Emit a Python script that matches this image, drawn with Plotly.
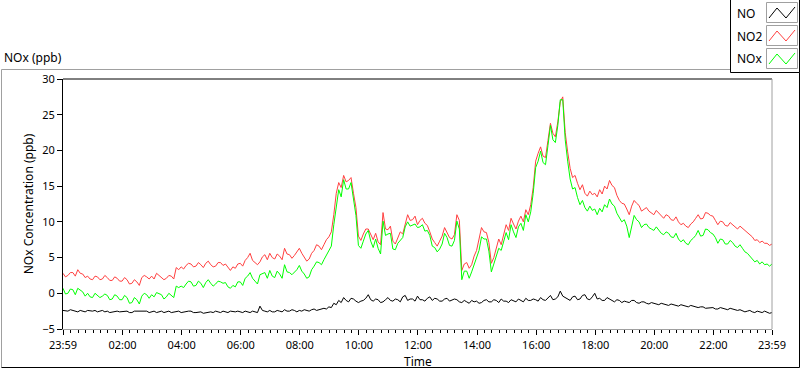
import pandas as pd
import plotly.graph_objects as go

# ---------------- data (5-minute samples starting 23:59) ----------------
start_time = "2024-01-01 23:59"
n_points = 289

no2 = [
    2.8, 2.3, 2.5, 2.9, 2.9, 2.4, 3.3, 2.8, 2.7, 2.2, 2.4, 2.0,
    1.9, 2.4, 2.3, 1.9, 2.0, 2.5, 2.2, 1.8, 1.8, 2.3, 2.1, 1.7,
    1.7, 2.2, 1.9, 1.3, 1.4, 1.9, 1.6, 1.1, 2.2, 2.5, 2.3, 2.0,
    2.4, 2.0, 2.8, 2.5, 2.3, 1.9, 2.1, 2.5, 2.4, 2.0, 3.6, 3.3,
    3.7, 3.4, 3.9, 4.2, 4.1, 3.7, 3.8, 4.3, 4.0, 3.6, 4.2, 4.5,
    4.0, 3.7, 3.8, 4.3, 4.3, 3.9, 4.1, 3.6, 3.2, 3.7, 3.5, 4.1,
    4.2, 3.8, 4.6, 5.0, 5.6, 4.6, 4.3, 4.0, 4.4, 5.1, 5.4, 4.7,
    5.6, 5.0, 4.8, 5.5, 5.2, 4.7, 6.3, 5.5, 5.4, 4.9, 5.3, 5.9,
    6.3, 5.6, 5.0, 4.5, 4.8, 5.6, 6.0, 6.8, 6.6, 6.1, 6.8, 7.5,
    7.9, 8.6, 11.0, 14.0, 15.5, 14.8, 16.5, 15.6, 15.8, 16.2, 14.0, 12.0,
    8.0, 7.4, 8.3, 9.0, 9.0, 8.2, 7.5, 8.4, 7.2, 6.8, 11.3, 9.0,
    8.9, 9.4, 7.3, 6.9, 7.9, 8.6, 8.3, 9.6, 11.0, 10.2, 10.3, 10.8,
    9.6, 10.2, 10.5, 9.8, 9.5, 8.6, 7.6, 7.1, 6.6, 7.3, 8.0, 9.2,
    8.5, 7.8, 7.6, 8.2, 11.0, 10.2, 3.2, 4.1, 4.3, 3.5, 4.0, 5.2,
    6.0, 7.4, 9.2, 8.6, 8.5, 7.1, 4.2, 5.0, 6.5, 7.6, 6.8, 8.2,
    9.6, 8.8, 10.5, 9.7, 9.0, 10.1, 10.8, 10.0, 11.7, 11.0, 12.4, 14.8,
    18.5, 19.6, 20.5, 19.2, 19.0, 21.4, 23.8, 22.4, 21.9, 24.0, 26.8, 27.5,
    22.5, 19.8, 17.5, 16.2, 16.5, 15.4, 14.5, 15.2, 14.0, 13.6, 14.3, 13.8,
    14.0, 13.5, 14.5, 13.9, 15.0, 14.6, 15.8, 15.1, 14.8, 13.7, 13.0, 12.6,
    12.5, 11.8, 11.0, 12.2, 13.0, 12.6, 12.3, 11.5, 11.7, 12.0, 11.5, 11.2,
    11.0, 11.6, 11.2, 10.8, 10.5, 11.0, 10.8, 10.3, 10.2, 10.7, 10.0, 9.6,
    9.8, 9.4, 9.2, 9.7, 10.0, 10.5, 11.0, 10.4, 10.5, 11.3, 11.2, 10.9,
    10.8, 10.2, 9.6, 10.1, 10.0, 9.5, 9.4, 9.9, 9.6, 9.2, 9.0, 9.4,
    9.1, 8.7, 8.5, 8.1, 7.9, 7.4, 7.5, 7.1, 7.3, 7.0, 7.0, 6.7,
    6.9,
]

nox = [
    0.7, -0.1, 0.0, 0.6, 0.5, -0.2, 0.7, 0.4, 0.2, -0.4, 0.0, -0.5,
    -0.6, 0.0, -0.3, -0.6, -0.4, -0.1, -0.3, -0.9, -0.8, -0.2, -0.4, -0.9,
    -0.9, -0.3, -0.6, -1.4, -1.3, -0.6, -0.9, -1.5, -0.4, 0.0, -0.2, -0.7,
    -0.2, -0.5, 0.1, -0.1, -0.2, -0.8, -0.5, 0.0, -0.3, -0.6, 1.0, 0.8,
    1.0, 0.8, 1.3, 1.7, 1.6, 1.0, 1.1, 1.7, 1.4, 0.8, 1.5, 1.9,
    1.4, 1.0, 1.3, 1.7, 1.6, 1.4, 1.5, 0.9, 0.7, 1.1, 0.9, 1.6,
    1.6, 1.1, 2.1, 2.4, 2.9, 2.1, 1.7, 1.3, 2.6, 2.7, 2.9, 2.1,
    3.2, 2.4, 2.2, 3.1, 2.7, 2.1, 4.0, 3.0, 2.9, 2.6, 2.9, 3.3,
    3.9, 3.1, 2.7, 2.1, 2.3, 3.3, 3.8, 4.4, 4.3, 4.0, 4.7, 5.3,
    6.0, 6.6, 9.6, 12.4, 14.5, 13.5, 15.9, 14.6, 14.6, 15.5, 13.2, 10.9,
    6.7, 6.3, 7.3, 8.3, 8.8, 7.3, 6.4, 7.6, 6.3, 5.5, 10.1, 8.1,
    8.3, 8.4, 6.2, 6.1, 7.0, 7.4, 7.8, 9.3, 10.0, 9.4, 9.5, 9.7,
    9.2, 9.3, 9.6, 8.7, 8.8, 8.1, 6.6, 6.4, 5.8, 6.2, 6.9, 8.4,
    7.8, 6.7, 6.6, 7.4, 10.1, 9.0, 1.9, 3.1, 3.1, 2.1, 3.0, 4.0,
    4.9, 6.0, 7.9, 7.6, 7.6, 5.9, 3.0, 4.1, 5.5, 6.3, 6.0, 7.1,
    8.5, 7.5, 9.6, 8.6, 7.8, 9.3, 9.8, 8.8, 11.0, 10.0, 11.4, 14.0,
    17.6, 18.5, 19.9, 18.3, 18.0, 20.7, 23.5, 21.5, 21.1, 23.5, 27.1, 27.1,
    21.5, 18.5, 16.0, 14.6, 14.8, 13.4, 12.4, 13.0, 12.0, 11.5, 12.2, 11.6,
    11.8, 11.0, 11.9, 11.4, 12.4, 12.0, 13.2, 12.5, 12.2, 11.2, 10.5, 10.0,
    10.3, 9.4, 7.8, 9.6, 10.9, 10.3, 10.0, 9.2, 9.6, 9.7, 9.2, 9.0,
    8.8, 9.3, 8.9, 8.4, 8.2, 8.6, 8.4, 7.9, 7.8, 8.4, 7.6, 7.2,
    7.5, 7.0, 6.8, 7.4, 7.7, 8.1, 8.8, 8.0, 8.1, 9.0, 8.9, 8.5,
    8.3, 7.8, 7.0, 7.6, 7.5, 6.9, 6.9, 7.4, 7.1, 6.6, 6.4, 6.8,
    6.3, 5.8, 5.6, 5.2, 4.9, 4.4, 4.6, 4.1, 4.4, 4.0, 4.1, 3.8,
    4.1,
]

no = [
    -2.4, -2.5, -2.5, -2.3, -2.4, -2.6, -2.6, -2.4, -2.5, -2.6, -2.4, -2.5,
    -2.5, -2.4, -2.6, -2.5, -2.4, -2.6, -2.5, -2.7, -2.6, -2.5, -2.5, -2.6,
    -2.6, -2.5, -2.5, -2.7, -2.7, -2.5, -2.5, -2.6, -2.6, -2.5, -2.5, -2.7,
    -2.6, -2.5, -2.7, -2.6, -2.5, -2.7, -2.6, -2.5, -2.7, -2.6, -2.6, -2.5,
    -2.7, -2.6, -2.6, -2.5, -2.5, -2.7, -2.7, -2.6, -2.6, -2.8, -2.7, -2.6,
    -2.6, -2.7, -2.5, -2.6, -2.7, -2.5, -2.6, -2.7, -2.5, -2.6, -2.6, -2.5,
    -2.6, -2.7, -2.5, -2.6, -2.7, -2.5, -2.6, -2.7, -1.8, -2.4, -2.5, -2.6,
    -2.4, -2.6, -2.6, -2.4, -2.5, -2.6, -2.3, -2.5, -2.5, -2.3, -2.4, -2.6,
    -2.4, -2.5, -2.3, -2.4, -2.5, -2.3, -2.2, -2.4, -2.3, -2.1, -2.1, -2.2,
    -1.9, -2.0, -1.4, -1.6, -1.0, -1.3, -0.6, -1.0, -1.2, -0.7, -0.8, -1.1,
    -1.3, -1.1, -1.0, -0.7, -0.2, -0.9, -1.1, -0.8, -0.9, -1.3, -1.2, -0.9,
    -0.6, -1.0, -1.1, -0.8, -0.9, -1.2, -0.5, -0.3, -1.0, -0.8, -0.8, -1.1,
    -0.4, -0.9, -0.9, -1.1, -0.7, -0.5, -1.0, -0.7, -0.8, -1.1, -1.1, -0.8,
    -0.7, -1.1, -1.0, -0.8, -0.9, -1.2, -1.3, -1.0, -1.2, -1.4, -1.0, -1.2,
    -1.1, -1.4, -1.3, -1.0, -0.9, -1.2, -1.2, -0.9, -1.0, -1.3, -0.8, -1.1,
    -1.1, -1.3, -0.9, -1.1, -1.2, -0.8, -1.0, -1.2, -0.7, -1.0, -1.0, -0.8,
    -0.9, -1.1, -0.6, -0.9, -1.0, -0.7, -0.3, -0.9, -0.8, -0.5, 0.3, -0.4,
    -0.6, -0.9, -1.0, -0.5, -0.4, -0.9, -0.8, -0.3, -0.2, -0.8, -0.9, -0.5,
    0.0, -0.8, -0.7, -1.0, -1.0, -0.6, -0.8, -1.1, -1.2, -0.9, -1.0, -1.3,
    -1.1, -1.2, -1.3, -1.0, -1.0, -1.3, -1.4, -1.2, -1.2, -1.4, -1.5, -1.3,
    -1.4, -1.5, -1.6, -1.4, -1.5, -1.7, -1.7, -1.5, -1.6, -1.8, -1.8, -1.6,
    -1.7, -1.8, -1.9, -1.7, -1.8, -2.0, -2.0, -1.9, -1.9, -2.1, -2.1, -2.0,
    -2.0, -2.2, -2.2, -2.0, -2.1, -2.3, -2.3, -2.1, -2.2, -2.4, -2.4, -2.3,
    -2.4, -2.6, -2.5, -2.4, -2.6, -2.7, -2.5, -2.6, -2.7, -2.5, -2.6, -2.8,
    -2.7,
]

tick_values = ["2024-01-01 23:59"] + [f"2024-01-02 {h:02d}:00" for h in range(2, 23, 2)] + ["2024-01-02 23:59"]
tick_labels = ["23:59"] + [f"{h:02d}:00" for h in range(2, 23, 2)] + ["23:59"]
y_tick_values = [-5, 0, 5, 10, 15, 20, 25, 30]

series_names = ["NO", "NO2", "NOx"]
series_colors = ["#000000", "#ff4040", "#00ff00"]

times = pd.date_range(start_time, periods=n_points, freq="5min")

# ---------------- figure ----------------
W, H = 800, 369
L, R, T, B = 63, 28, 79, 40
pw, ph = W - L - R, H - T - B

def px(x):
    return (x - L) / pw

def py(y):
    return (H - B - y) / ph

FONT = "Noto Sans"

fig = go.Figure()
for name, vals, col in zip(series_names, [no, no2, nox], series_colors):
    fig.add_trace(go.Scatter(x=times, y=vals, mode="lines", name=name,
                             line=dict(color=col, width=1), showlegend=False))

shapes = []
def seg(x0, y0, x1, y1, color):
    shapes.append(dict(type="line", xref="paper", yref="paper",
                       x0=px(x0), y0=py(y0), x1=px(x1), y1=py(y1),
                       line=dict(color=color, width=1)))

# plot-area frame (top black, right gray)
shapes.append(dict(type="line", xref="paper", yref="paper", x0=0, x1=1, y0=1, y1=1,
                   line=dict(color="black", width=1)))
shapes.append(dict(type="line", xref="paper", yref="paper", x0=1, x1=1, y0=0, y1=1,
                   line=dict(color="#a0a0a0", width=1)))
# outer frame
seg(1.5, 69.5, 730, 69.5, "#a0a0a0")
seg(1.5, 69.5, 1.5, 367.5, "#a0a0a0")
seg(1.5, 367.5, 799.5, 367.5, "black")
seg(799.5, 72.5, 799.5, 367.5, "black")
# legend box
seg(730.5, 0, 730.5, 72.5, "black")
seg(730.5, 72.5, 799.5, 72.5, "black")
seg(799.5, 0, 799.5, 72.5, "black")

annotations = []
for i, (name, col) in enumerate(zip(series_names, series_colors)):
    yc = 13 + i * 23
    shapes.append(dict(type="rect", xref="paper", yref="paper",
                       x0=px(766.5), x1=px(797.5), y0=py(yc - 10.5), y1=py(yc + 9.5),
                       line=dict(color="#a0a0a0", width=1), fillcolor="white"))
    pts = [(769, yc + 5), (777, yc - 5), (786, yc + 5), (795, yc - 6)]
    path = "M " + " L ".join(f"{px(a)},{py(b)}" for a, b in pts)
    shapes.append(dict(type="path", xref="paper", yref="paper", path=path,
                       line=dict(color=col, width=1)))
    annotations.append(dict(x=px(735), y=py(yc), xref="paper", yref="paper",
                            text=name, showarrow=False, xanchor="left", yanchor="middle",
                            font=dict(family=FONT, size=12, color="black")))

# x-axis title placed below the tick labels
annotations.append(dict(x=0.5, y=py(361), xref="paper", yref="paper", text="Time",
                        showarrow=False, xanchor="center", yanchor="middle",
                        font=dict(family=FONT, size=12, color="black")))

fig.update_layout(
    width=W, height=H, autosize=False,
    margin=dict(l=L, r=R, t=T, b=B, pad=0, autoexpand=False),
    paper_bgcolor="white", plot_bgcolor="white",
    title=dict(text="NOx (ppb)", x=4 / W, xanchor="left", xref="container",
               y=1 - 58 / H, yanchor="middle", yref="container",
               font=dict(family=FONT, size=12, color="black")),
    shapes=shapes, annotations=annotations,
    font=dict(family=FONT, size=11, color="black"),
)

fig.update_xaxes(
    type="date", range=[tick_values[0], tick_values[-1]], automargin=False,
    tickmode="array", tickvals=tick_values, ticktext=tick_labels,
    ticks="outside", ticklen=5, tickwidth=1, tickcolor="black",
    ticklabelstandoff=1,
    minor=dict(ticks="outside", ticklen=3, tickcolor="black", tickwidth=1,
               dtick=15 * 60 * 1000, tick0="2024-01-02 00:00", showgrid=False),
    showline=True, linecolor="#a0a0a0", linewidth=1,
    showgrid=False, zeroline=False,
    tickfont=dict(family=FONT, size=11, color="black"),
)
fig.update_yaxes(
    range=[-5, 30], automargin=False, tickmode="array", tickvals=y_tick_values,
    ticks="outside", ticklen=5, tickwidth=1, tickcolor="black",
    showline=True, linecolor="black", linewidth=1,
    showgrid=False, zeroline=False,
    tickfont=dict(family=FONT, size=11, color="black"),
    title=dict(text="NOx Concentration (ppb)", font=dict(family=FONT, size=12, color="black"), standoff=6),
)

fig.write_html("out.html", config={"displayModeBar": False},
               post_script="document.body.style.margin='0';document.body.style.overflow='hidden';")
